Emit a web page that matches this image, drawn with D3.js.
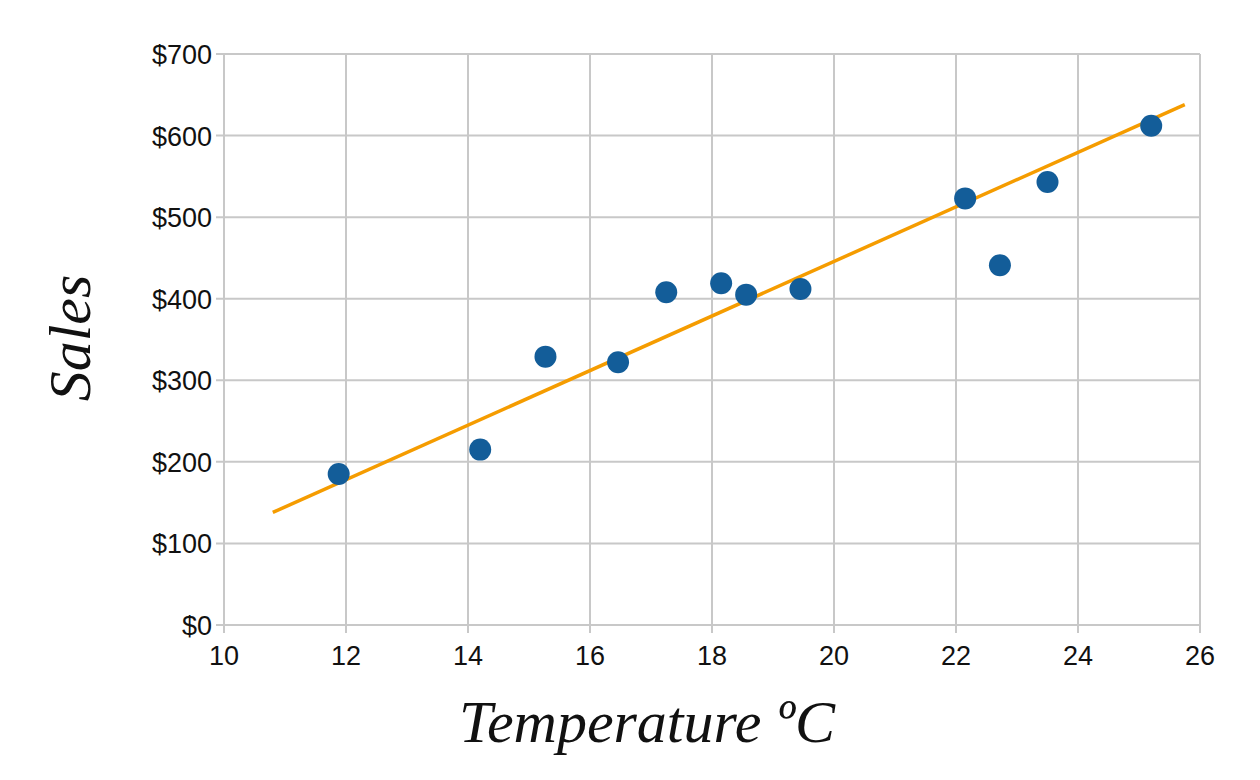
<!DOCTYPE html>
<meta charset="utf-8">
<script src="https://d3js.org/d3.v7.min.js"></script>
<body style="margin:0;background:#fff">
<svg width="1260" height="780"></svg>
<script>
    var temps  = [11.88, 14.2, 15.27, 16.46, 17.25, 18.15, 18.56, 19.45, 22.15, 22.72, 23.5, 25.2];
    var sales  = [185, 215, 329, 322, 408, 419, 405, 412, 523, 441, 543, 612];
    var trendX = [10.8, 25.75];
    var trendY = [138, 638];
    var xTicks = d3.range(10, 27, 2), yTicks = d3.range(0, 701, 100);

    var svg = d3.select('svg');
    var x = d3.scaleLinear().domain([10, 26]).range([224, 1200]);
    var y = d3.scaleLinear().domain([0, 700]).range([625, 54]);

    var g = svg.append('g');
    g.selectAll('.vx').data(xTicks).enter().append('line')
        .attr('x1', x).attr('x2', x).attr('y1', y(0)).attr('y2', y(700))
        .attr('stroke', '#c8c8c8').attr('stroke-width', 2);
    g.selectAll('.hy').data(yTicks).enter().append('line')
        .attr('y1', y).attr('y2', y).attr('x1', x(10) - 8).attr('x2', x(26))
        .attr('stroke', '#c8c8c8').attr('stroke-width', 2);
    g.selectAll('.tx').data(xTicks).enter().append('line')
        .attr('x1', x).attr('x2', x).attr('y1', y(0)).attr('y2', y(0) + 8)
        .attr('stroke', '#c8c8c8').attr('stroke-width', 2);

    g.selectAll('.xl').data(xTicks).enter().append('text')
        .attr('x', x).attr('y', y(0) + 40).attr('text-anchor', 'middle')
        .style('font', '27px "Liberation Sans", Arial, sans-serif').attr('fill', '#111')
        .text(function(d){ return d; });
    g.selectAll('.yl').data(yTicks).enter().append('text')
        .attr('x', x(10) - 12).attr('y', function(d){ return y(d) + 10; }).attr('text-anchor', 'end')
        .style('font', '27px "Liberation Sans", Arial, sans-serif').attr('fill', '#111')
        .text(function(d){ return '$' + d; });

    svg.append('line')
        .attr('x1', x(trendX[0])).attr('y1', y(trendY[0]))
        .attr('x2', x(trendX[1])).attr('y2', y(trendY[1]))
        .attr('stroke', '#f59c00').attr('stroke-width', 3.5);

    svg.selectAll('circle').data(temps).enter().append('circle')
        .attr('cx', function(d){ return x(d); })
        .attr('cy', function(d, i){ return y(sales[i]); })
        .attr('r', 11).attr('fill', '#135d99');

    svg.append('text').attr('x', 647).attr('y', 742).attr('text-anchor', 'middle')
        .style('font', 'italic 60px "Liberation Serif", "DejaVu Serif", serif').attr('fill', '#111')
        .text('Temperature ºC');
    svg.append('text').attr('transform', 'translate(90,338) rotate(-90)').attr('text-anchor', 'middle')
        .style('font', 'italic 60px "Liberation Serif", "DejaVu Serif", serif').attr('fill', '#111')
        .text('Sales');
</script>
</body>
